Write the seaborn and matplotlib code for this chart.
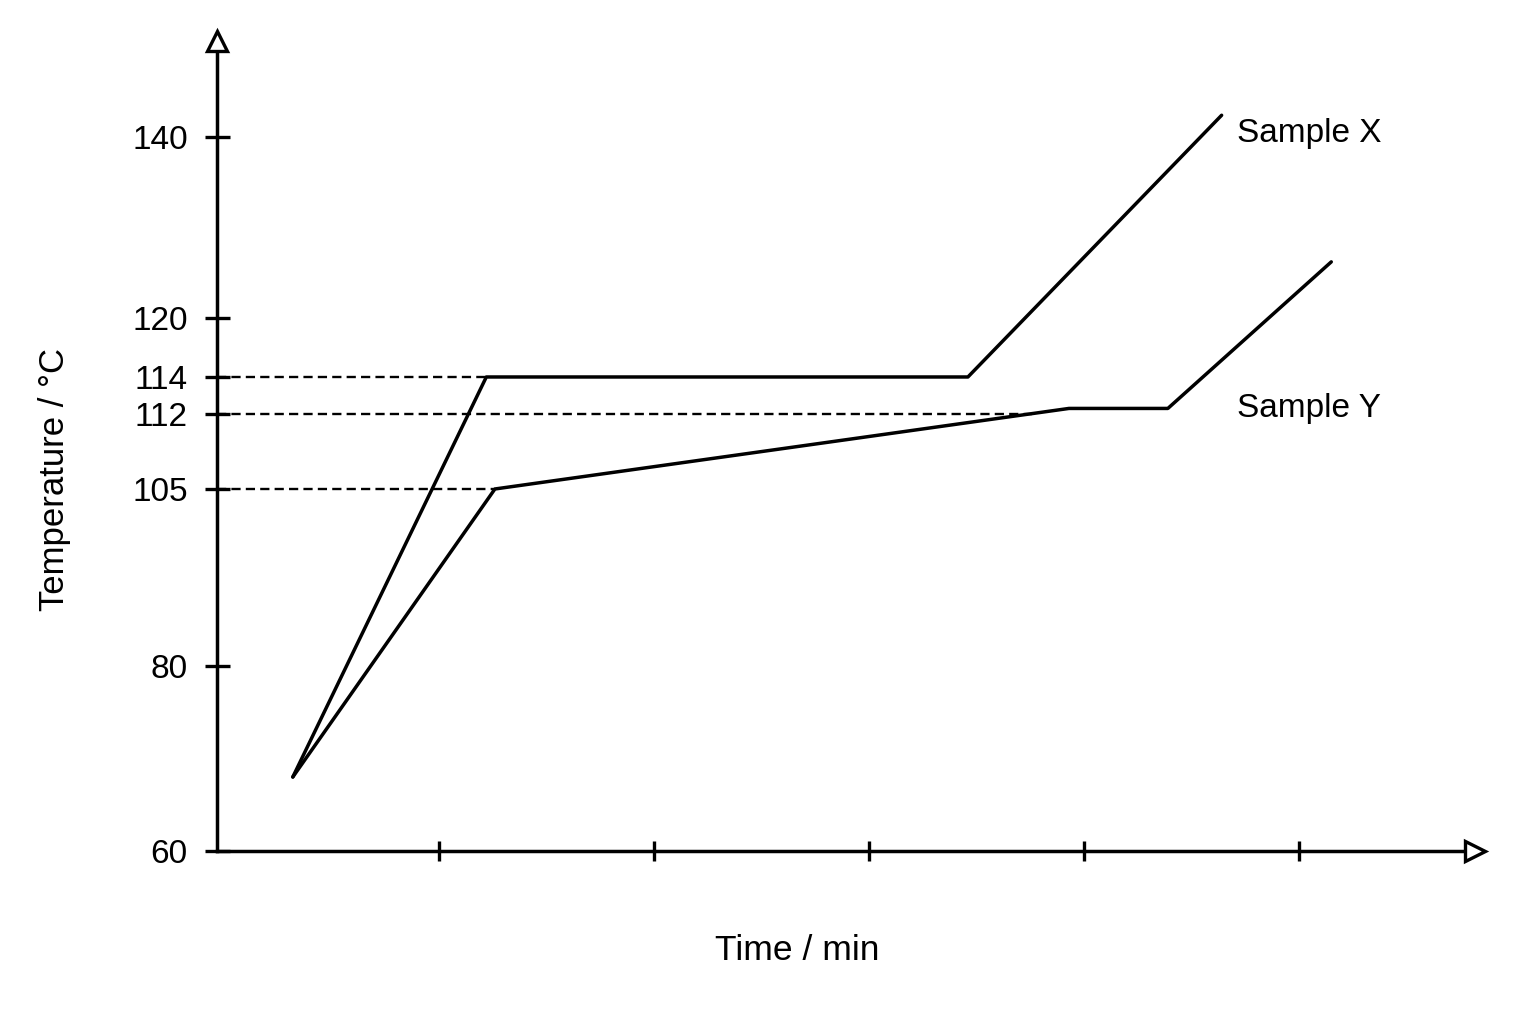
import numpy as np
import pandas as pd
import seaborn as sns
import matplotlib.pyplot as plt
from matplotlib import transforms

# data (time in min, temperature in degC)
time_x = [3.2, 12.2, 34.6, 46.4]
temp_x = [68, 114, 114, 142.4]
time_y = [3.2, 12.6, 39.3, 43.9, 51.5]
temp_y = [68, 105, 112.3, 112.3, 126.2]

ytick_vals = [60, 80, 105, 112, 114, 120, 140]
xtick_vals = [10, 20, 30, 40, 50]

ref_temps = [114, 112, 105]
ref_ends = [12.2, 37.6, 12.6]

# the drawing is not to scale: position of each tick value along the axis
tick_pos = [0, 185, 362, 437, 474, 533, 714]
scale_t = [0] + ytick_vals + [200]
scale_p = [-555] + tick_pos + [714 + 60 * 9.05]


def forward(v):
    return np.interp(v, scale_t, scale_p)


def inverse(p):
    return np.interp(p, scale_p, scale_t)


df = pd.DataFrame({
    "time": time_x + time_y,
    "temp": temp_x + temp_y,
    "sample": ["Sample X"] * len(time_x) + ["Sample Y"] * len(time_y),
})

sns.set_theme(style="white")
plt.rcParams["font.family"] = ["Liberation Sans", "DejaVu Sans"]
plt.rcParams["text.color"] = "black"
plt.rcParams["axes.labelcolor"] = "black"

fig = plt.figure(figsize=(15.36, 10.24), dpi=100)
ax = fig.add_axes([0.14128, 0.16895, 0.8125, 0.78125])

sns.lineplot(data=df, x="time", y="temp", hue="sample", units="sample",
             estimator=None, sort=False, palette=["black", "black"],
             linewidth=2.5, legend=False, ax=ax)

ax.set_yscale("function", functions=(forward, inverse))
ax.set_xlim(-0.326, 57.72)
ax.set_ylim(60, 149.5)

# dashed guide lines from the axis
ax.hlines(ref_temps, -0.326, ref_ends, colors="black", linewidth=1.7,
          linestyles=(0, (3.9, 2.2)), zorder=1)

ax.set_yticks(ytick_vals)
ax.set_yticklabels([str(v) for v in ytick_vals])
ax.set_xticks(xtick_vals)
ax.set_xticklabels([])
ax.minorticks_off()
ax.tick_params(axis="y", direction="inout", length=18, width=2.4,
               pad=12, labelsize=24, colors="black", left=True)
ax.tick_params(axis="x", direction="inout", length=15, width=2.4,
               colors="black", bottom=True)

for s in ["top", "right"]:
    ax.spines[s].set_visible(False)
for s in ["left", "bottom"]:
    ax.spines[s].set_color("black")
    ax.spines[s].set_linewidth(2.5)

# hollow arrow heads at the axis ends
tr_x = transforms.offset_copy(ax.transAxes, fig=fig, x=7.5, y=0, units="points")
tr_y = transforms.offset_copy(ax.transAxes, fig=fig, x=0, y=7.5, units="points")
ax.plot([1], [0], marker=">", ms=15, mfc="white", mec="black", mew=2.4,
        transform=tr_x, clip_on=False, zorder=5)
ax.plot([0], [1], marker="^", ms=15, mfc="white", mec="black", mew=2.4,
        transform=tr_y, clip_on=False, zorder=5)

ax.text(47.1, 139.45, "Sample X", fontsize=24, ha="left", va="baseline")
ax.text(47.1, 111.7, "Sample Y", fontsize=24, ha="left", va="baseline")

ax.set_xlabel("Time / min", fontsize=25.5)
ax.set_ylabel("Temperature / °C", fontsize=25)
ax.xaxis.set_label_coords(0.465, -0.104)
ax.yaxis.set_label_coords(-0.117, 0.464)

fig.savefig("out.png", dpi=100, facecolor="white")
